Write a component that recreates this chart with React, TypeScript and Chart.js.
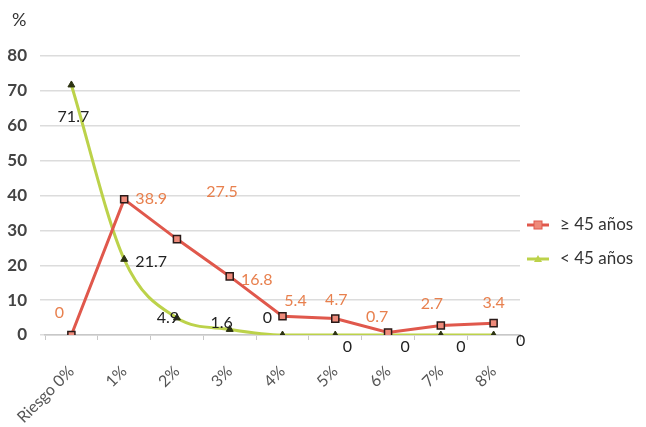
import React, { useEffect, useRef } from "react";
import { Chart, registerables } from "chart.js";

Chart.register(...registerables);

const categories = ["Riesgo 0%", "1%", "2%", "3%", "4%", "5%", "6%", "7%", "8%"];
const olderValues = [0, 38.9, 27.5, 16.8, 5.4, 4.7, 0.7, 2.7, 3.4];
const youngerValues = [71.7, 21.7, 4.9, 1.6, 0, 0, 0, 0, 0];
const seriesNames = ["≥ 45 años", "< 45 años"];
const yTicks = [0, 10, 20, 30, 40, 50, 60, 70, 80];

// label offsets (pixels, relative to each point) — styling only
const olderLabelOffsets: [number, number][] = [
  [-12, -22], [27, 0], [45, -47], [27, 3], [13, -15], [1, -19], [-11, -16], [-9, -22], [0, -20],
];
const youngerLabelOffsets: [number, number][] = [
  [2, 32], [27, 3], [-9, 0], [-8, -7], [-15, -17], [12, 12], [17, 12], [20, 12], [27, 6],
];

const RED_LINE = "#e0584c";
const RED_FILL = "#ee8a7a";
const RED_LABEL = "#e8804e";
const GREEN_LINE = "#bcd24a";
const GREEN_MARK = "#2c3312";
const FONT = "Lato, 'Open Sans', sans-serif";

export default function App() {
  const ref = useRef<HTMLCanvasElement | null>(null);
  useEffect(() => {
    if (!ref.current) return;
    const labelPlugin = {
      id: "customLabels",
      afterDatasetsDraw(chart: any) {
        const ctx = chart.ctx;
        ctx.save();
        ctx.font = `16px ${FONT}`;
        ctx.textAlign = "center";
        ctx.textBaseline = "middle";
        const sets = [
          { idx: 0, vals: olderValues, offs: olderLabelOffsets, color: RED_LABEL },
          { idx: 1, vals: youngerValues, offs: youngerLabelOffsets, color: "#222" },
        ];
        sets.forEach((s) => {
          const meta = chart.getDatasetMeta(s.idx);
          meta.data.forEach((pt: any, i: number) => {
            ctx.fillStyle = s.color;
            ctx.fillText(String(s.vals[i]), pt.x + s.offs[i][0], pt.y + s.offs[i][1]);
          });
        });
        // percent sign
        ctx.font = `18px ${FONT}`;
        ctx.fillStyle = "#333";
        ctx.textAlign = "left";
        ctx.fillText("%", 12, 20);
        // legend
        const items = [
          { name: seriesNames[0], y: 225, line: RED_LINE, kind: "rect" },
          { name: seriesNames[1], y: 259, line: GREEN_LINE, kind: "tri" },
        ];
        items.forEach((it) => {
          ctx.strokeStyle = it.line;
          ctx.lineWidth = 3;
          ctx.beginPath();
          ctx.moveTo(527, it.y);
          ctx.lineTo(549, it.y);
          ctx.stroke();
          if (it.kind === "rect") {
            ctx.fillStyle = RED_FILL;
            ctx.fillRect(534, it.y - 4, 8, 8);
            ctx.strokeStyle = RED_LINE;
            ctx.lineWidth = 1;
            ctx.strokeRect(534, it.y - 4, 8, 8);
          } else {
            ctx.fillStyle = GREEN_LINE;
            ctx.beginPath();
            ctx.moveTo(538, it.y - 4);
            ctx.lineTo(542, it.y + 3);
            ctx.lineTo(534, it.y + 3);
            ctx.closePath();
            ctx.fill();
          }
          ctx.font = `17px ${FONT}`;
          ctx.fillStyle = "#333";
          ctx.textAlign = "left";
          ctx.fillText(it.name, 560, it.y);
        });
        ctx.restore();
      },
    };

    const chart = new Chart(ref.current, {
      type: "line",
      data: {
        labels: categories,
        datasets: [
          {
            label: seriesNames[0],
            data: olderValues,
            borderColor: RED_LINE,
            borderWidth: 3,
            pointStyle: "rect",
            pointRadius: 5,
            pointBackgroundColor: RED_FILL,
            pointBorderColor: "#2a1a18",
            pointBorderWidth: 1.5,
            tension: 0,
          },
          {
            label: seriesNames[1],
            data: youngerValues,
            borderColor: GREEN_LINE,
            borderWidth: 3,
            pointStyle: "triangle",
            pointRadius: 4,
            pointBackgroundColor: GREEN_MARK,
            pointBorderColor: GREEN_MARK,
            pointBorderWidth: 1,
            tension: 0.4,
            cubicInterpolationMode: "monotone",
          },
        ],
      },
      options: {
        responsive: false,
        animation: false,
        devicePixelRatio: 1,
        layout: { padding: { top: 56, right: 126, left: 0, bottom: 0 } },
        plugins: { legend: { display: false }, tooltip: { enabled: false }, title: { display: false } },
        scales: {
          x: {
            offset: true,
            afterFit: (s: any) => { s.height = 92; s.paddingLeft = 0; s.paddingRight = 0; },
            grid: { display: true, drawOnChartArea: false, tickLength: 5, color: "#c8c8c8", offset: true },
            border: { color: "#c8c8c8", width: 1.5 },
            ticks: {
              autoSkip: false,
              minRotation: 45,
              maxRotation: 45,
              padding: 22,
              color: "#555",
              font: { family: FONT, size: 16 },
            },
          },
          y: {
            min: 0,
            max: 80,
            afterFit: (s: any) => { s.width = 45; },
            afterBuildTicks: (s: any) => { s.ticks = yTicks.map((v) => ({ value: v })); },
            grid: { color: "#dcdcdc", lineWidth: 1.5, tickLength: 5 },
            border: { display: false },
            ticks: {
              padding: 13,
              color: "#444",
              font: { family: FONT, size: 17, weight: "bold" },
            },
          },
        },
      },
      plugins: [labelPlugin],
    } as any);
    return () => chart.destroy();
  }, []);

  return (
    <div style={{ position: "absolute", left: 0, top: 0, width: 646, height: 427, background: "#fff" }}>
      <canvas ref={ref} width={646} height={427} style={{ width: 646, height: 427 }} />
    </div>
  );
}
